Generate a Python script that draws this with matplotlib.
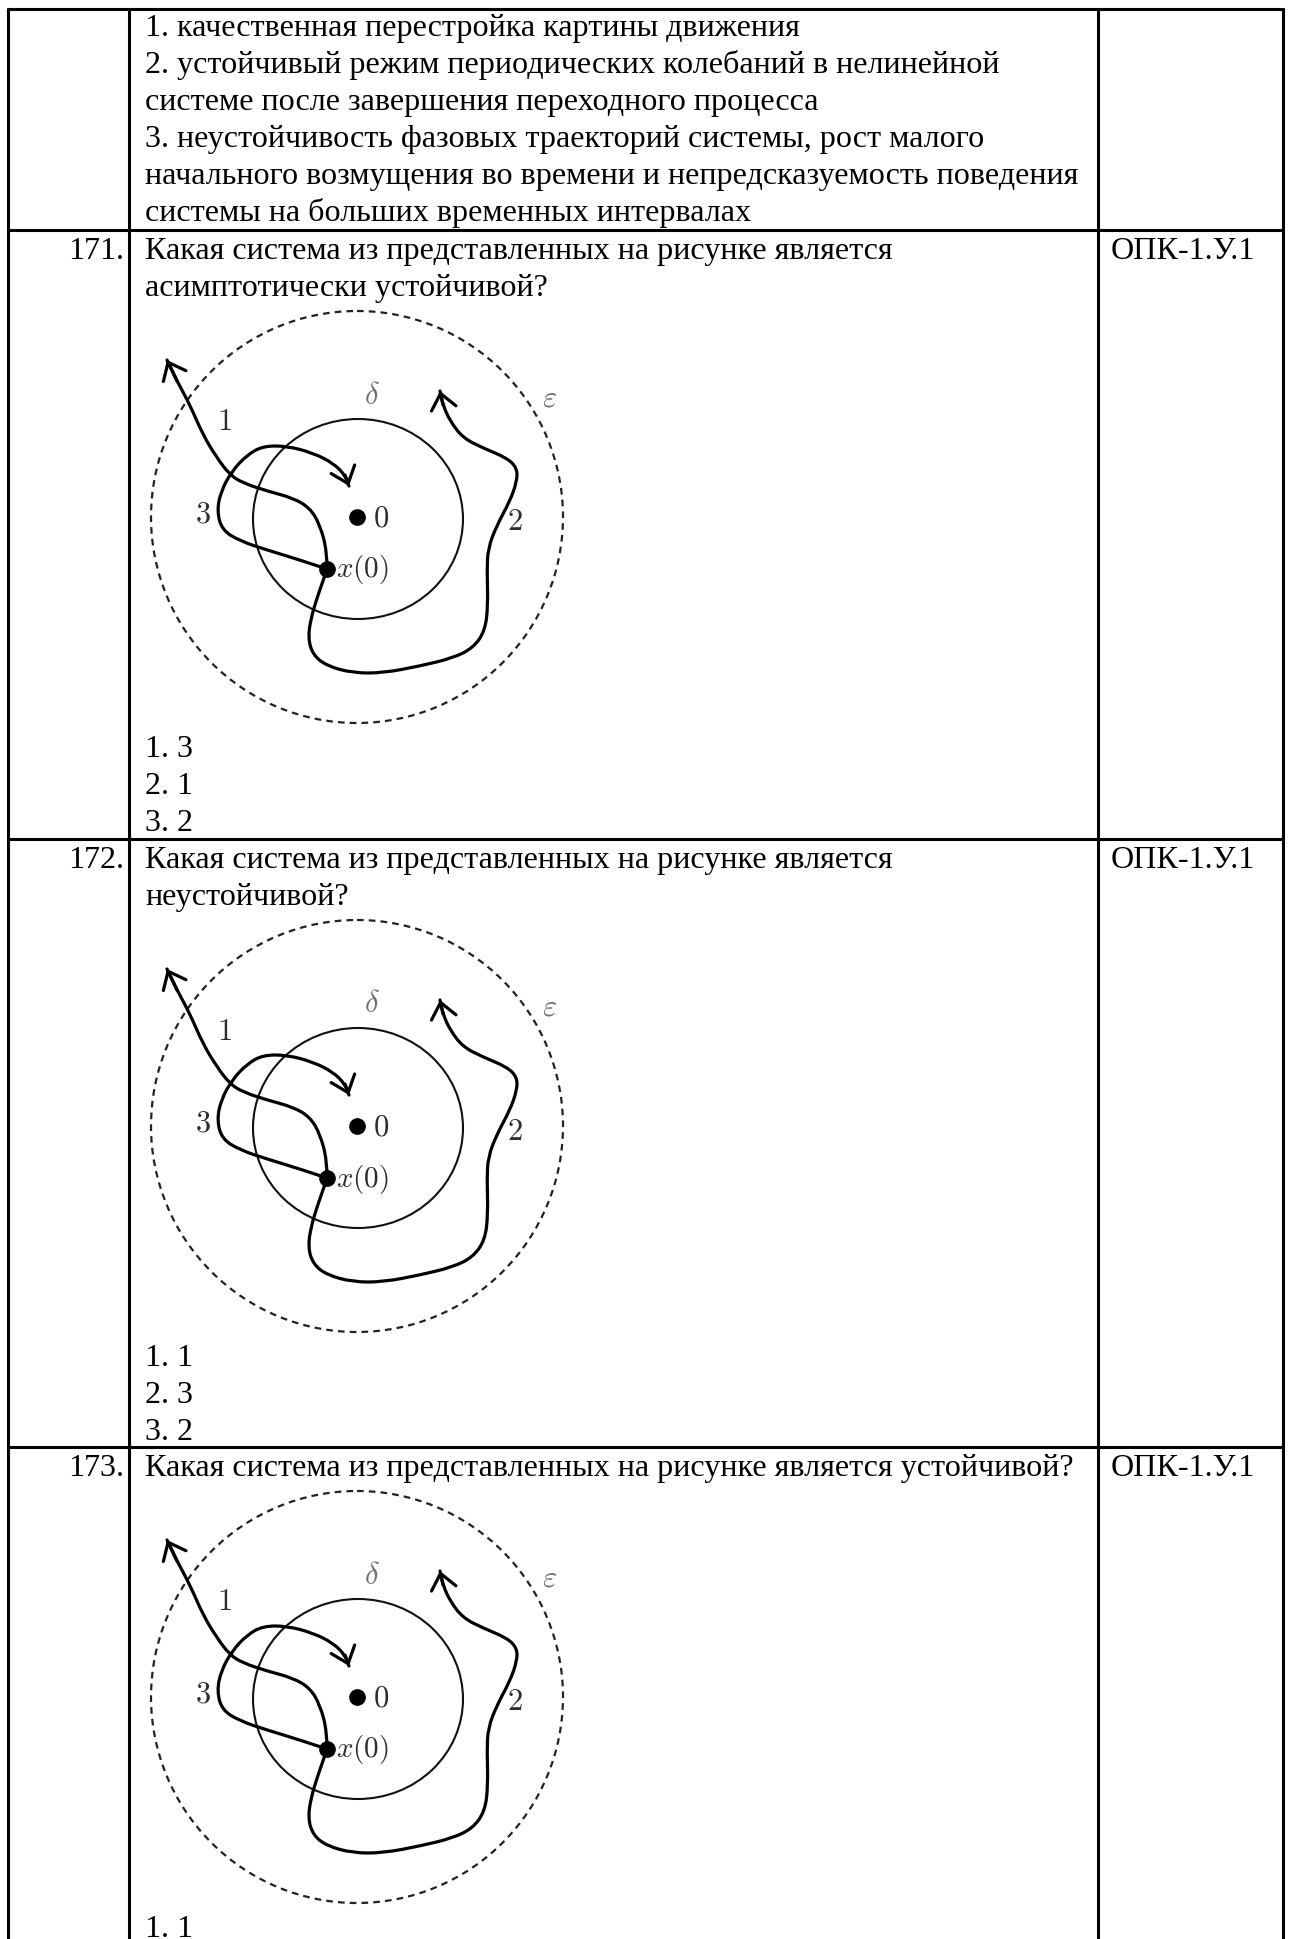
import numpy as np
import matplotlib
matplotlib.use("Agg")
import matplotlib.pyplot as plt
from matplotlib.path import Path
from matplotlib.patches import PathPatch, Circle, Ellipse

plt.rcParams['font.family'] = ['Liberation Serif', 'DejaVu Serif']
plt.rcParams['mathtext.fontset'] = 'cm'

W, H = 1289, 1939

# table grid, pixels
col_x = [8, 129, 1098, 1283]
row_y = [9, 230, 839, 1447]

top_lines = [
    "1. качественная перестройка картины движения",
    "2. устойчивый режим периодических колебаний в нелинейной",
    "системе после завершения переходного процесса",
    "3. неустойчивость фазовых траекторий системы, рост малого",
    "начального возмущения во времени и непредсказуемость поведения",
    "системы на больших временных интервалах",
]
q_num = ["171.", "172.", "173."]
q_text = [
    ["Какая система из представленных на рисунке является",
     "асимптотически устойчивой?"],
    ["Какая система из представленных на рисунке является",
     "неустойчивой?"],
    ["Какая система из представленных на рисунке является устойчивой?"],
]
q_answers = [["1. 3", "2. 1", "3. 2"], ["1. 1", "2. 3", "3. 2"], ["1. 1"]]
q_code = "ОПК-1.У.1"
diag_centers = [(357, 517), (357, 1126), (357, 1697)]

# phase-portrait picture, local pixels, origin at point 0, y up
eps_r = 206
delta_c = (1, -2)
delta_w, delta_h = 210, 200
x0 = (-30, -52)
traj1_x = [-30, -30, -37, -47, -64, -90, -114, -127, -140, -154, -167, -180, -190]
traj1_y = [-52, -34, -8, 9, 19, 26, 34, 42, 59, 82, 112, 136, 157]
traj2_x = [-30, -34, -40, -46, -49, -44, -30, -4, 26, 63, 96, 116, 128, 131,
           130, 131, 140, 153, 160, 160, 150, 126, 106, 93, 86, 83]
traj2_y = [-52, -64, -81, -101, -121, -138, -149, -156, -156, -149, -141, -131,
           -114, -88, -54, -31, -8, 16, 36, 49, 59, 69, 79, 96, 112, 126]
traj3_x = [-30, -57, -90, -117, -135, -140, -136, -125, -110, -94, -70, -44, -24, -12, -8]
traj3_y = [-52, -43, -33, -24, -13, 6, 26, 46, 62, 71, 71, 64, 54, 42, 31]
labels = [("1", -133, 94), ("3", -154, 2), ("2", 158, -6), ("0", 24, -2)]
greek = [(r"$\delta$", 15, 121), (r"$\varepsilon$", 193, 118)]

fig = plt.figure(figsize=(W / 100, H / 100), dpi=100)
ax = fig.add_axes([0, 0, 1, 1])
ax.set_xlim(0, W)
ax.set_ylim(H, 0)
ax.axis('off')

LW = 2.2
for x in col_x:
    ax.plot([x, x], [row_y[0] - 1, H + 5], color='black', lw=LW, solid_capstyle='butt')
for y in row_y:
    ax.plot([col_x[0] - 1, col_x[-1] + 1], [y, y], color='black', lw=LW,
            solid_capstyle='butt')

FS = 23.1
TX = 145
STEP = 37
for i, s in enumerate(top_lines):
    ax.text(TX, row_y[0] + 27 + i * STEP, s, fontsize=FS, va='baseline')


def smooth_path(xs, ys):
    pts = list(zip(xs, ys))
    verts = [pts[0]]
    codes = [Path.MOVETO]
    for k in range(1, len(pts) - 1):
        mid = ((pts[k][0] + pts[k + 1][0]) / 2, (pts[k][1] + pts[k + 1][1]) / 2)
        verts += [pts[k], mid]
        codes += [Path.CURVE3, Path.CURVE3]
    verts.append(pts[-1])
    codes.append(Path.LINETO)
    return Path(verts, codes)


def draw_diagram(cx, cy):
    g = lambda lx, ly: (cx + lx, cy - ly)
    ax.add_patch(Circle((cx, cy), eps_r, fill=False, ec='#222222', lw=1.6,
                        ls=(0, (3.0, 2.3))))
    ax.add_patch(Ellipse(g(*delta_c), delta_w, delta_h, fill=False, ec='#111111', lw=1.5))
    for tx, ty in [(traj1_x, traj1_y), (traj2_x, traj2_y), (traj3_x, traj3_y)]:
        gx = [cx + v for v in tx]
        gy = [cy - v for v in ty]
        ax.add_patch(PathPatch(smooth_path(gx, gy), fill=False, lw=2.3,
                               ec='black', capstyle='round', joinstyle='round'))
        ax.annotate('', xy=(gx[-1], gy[-1]), xytext=(gx[-2], gy[-2]),
                    arrowprops=dict(arrowstyle='->,head_length=0.55,head_width=0.45',
                                    lw=2.3, color='black', shrinkA=0, shrinkB=0,
                                    mutation_scale=20))
    ax.plot(*g(0, 0), 'o', ms=11, color='black')
    ax.plot(*g(*x0), 'o', ms=11, color='black')
    for s, lx, ly in labels:
        ax.text(*g(lx, ly), '$' + s + '$', fontsize=22, color='#2e2e2e',
                ha='center', va='center')
    for s, lx, ly in greek:
        ax.text(*g(lx, ly), s, fontsize=22, color='#707070', ha='center', va='center')
    ax.text(*g(x0[0] + 9, x0[1] - 1), r'$x(0)$', fontsize=21, color='#2e2e2e',
            ha='left', va='center')


for r in range(3):
    top = row_y[r + 1]
    ax.text(124, top + 29, q_num[r], fontsize=FS, va='baseline', ha='right')
    ax.text(1111, top + 29, q_code, fontsize=FS, va='baseline')
    for i, s in enumerate(q_text[r]):
        ax.text(TX, top + 29 + i * STEP, s, fontsize=FS, va='baseline')
    cx, cy = diag_centers[r]
    draw_diagram(cx, cy)
    for i, s in enumerate(q_answers[r]):
        ax.text(TX, cy + 240 + i * STEP, s, fontsize=FS, va='baseline')

fig.savefig('out.png', dpi=100, facecolor='white')
